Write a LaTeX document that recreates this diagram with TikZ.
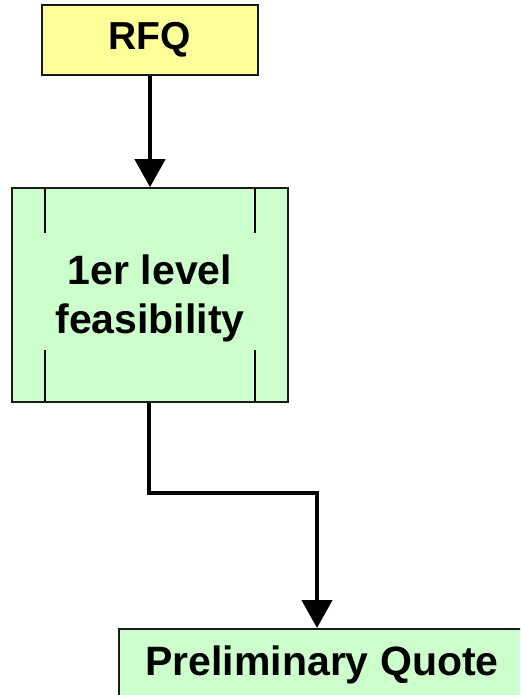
\documentclass[tikz,border=0pt]{standalone}
\usepackage{fontspec}
\setmainfont{Liberation Sans}
\usetikzlibrary{arrows.meta}
\definecolor{rfqfill}{HTML}{FFFF99}
\definecolor{boxfill}{HTML}{CCFFCC}
\definecolor{edge}{HTML}{1A1A1A}
\begin{document}
\begin{tikzpicture}[x=1pt,y=-1pt,
  boxstyle/.style={draw=edge, line width=1.6pt, rectangle, inner sep=0pt,
    font=\fontsize{39}{49}\selectfont\bfseries, align=center},
  bigtext/.style={font=\fontsize{41}{49}\selectfont\bfseries, align=center, inner sep=0pt},
  conn/.style={line width=4.5pt, -{Triangle[width=30pt,length=28pt]}},
  bar/.style={draw=black, line width=1.3pt}]
\useasboundingbox (0,0) rectangle (520,695);
\clip (0,0) rectangle (520,695);
% RFQ
\node[boxstyle, fill=rfqfill, minimum width=216pt, minimum height=70pt] (rfq) at (150,40) {RFQ};
% feasibility
\node[boxstyle, fill=boxfill, minimum width=276pt, minimum height=214pt] (feas) at (150,295) {};
\node[bigtext] (feast) at (150,298) {1er level\\feasibility};
\draw[bar] (45,188) -- (45,233);
\draw[bar] (255,188) -- (255,233);
\draw[bar] (45,350) -- (45,402);
\draw[bar] (255,350) -- (255,402);
% preliminary quote
\node[boxstyle, fill=boxfill, anchor=north west, minimum width=420pt, minimum height=100pt] (pq) at (118,628) {};
\node[bigtext, anchor=base] (pqt) at (322,675) {Preliminary Quote};
% connectors
\draw[conn] (rfq.south) -- (feas.north);
\coordinate (k1) at (149,493);
\coordinate (k2) at (317,493);
\draw[conn] (feas.south -| k1) -- (k1) -- (k2) -- (pq.north -| k2);
\end{tikzpicture}
\end{document}
